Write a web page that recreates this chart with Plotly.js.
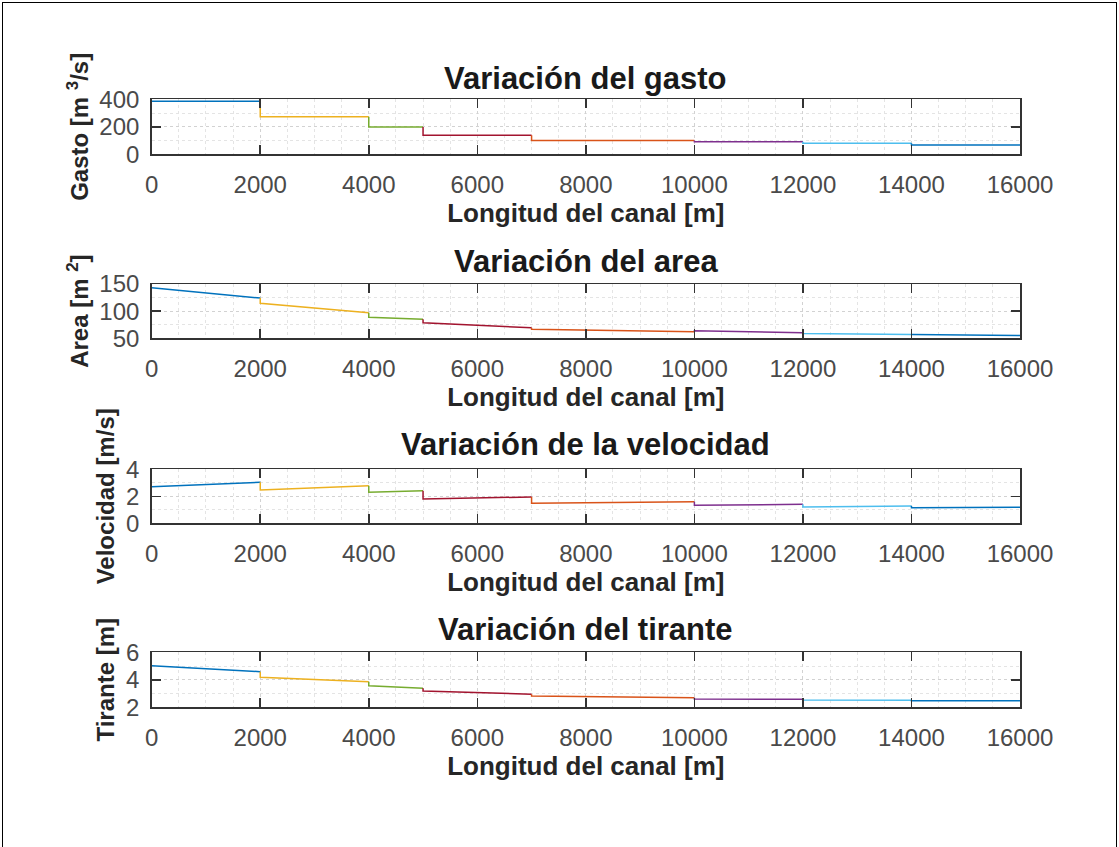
<!DOCTYPE html>
<html>
<head>
<meta charset="utf-8">
<script src="https://cdn.plot.ly/plotly-3.0.1.min.js"></script>
<style>
  html, body { margin:0; padding:0; background:#fff; }
  #wrap { position:relative; width:1119px; height:847px; overflow:hidden; }
  #chart { width:1119px; height:847px; }
  #frame { position:absolute; left:2px; top:2px; width:1113px; height:900px; border:1.5px solid #000; pointer-events:none; }
</style>
</head>
<body>
<div id="wrap"><div id="chart"></div><div id="frame"></div></div>
<script>
// Segment limits along the canal [m]
const xStart = [0, 2000, 4000, 5000, 7000, 10000, 12000, 14000];
const xEnd   = [2000, 4000, 5000, 7000, 10000, 12000, 14000, 16000];
// Gasto [m3/s] per segment (constant)
const gasto = [385, 273, 198, 138, 100, 92, 80, 68];
// Area [m2] at start / end of each segment
const areaStart = [143, 114.5, 88.6, 78.7, 66.5, 64, 59, 57];
const areaEnd   = [124, 97, 85, 69.5, 62, 60, 57, 55];
// Velocidad [m/s]
const velStart = [2.71, 2.47, 2.30, 1.80, 1.48, 1.33, 1.21, 1.16];
const velEnd   = [3.04, 2.79, 2.42, 1.95, 1.60, 1.41, 1.28, 1.19];
// Tirante [m]
const tirStart = [5.03, 4.18, 3.57, 3.19, 2.82, 2.60, 2.53, 2.48];
const tirEnd   = [4.59, 3.86, 3.38, 2.95, 2.70, 2.58, 2.52, 2.47];

const xTicks = [0, 2000, 4000, 6000, 8000, 10000, 12000, 14000, 16000];
const segColors = ['#0072BD', '#EDB120', '#77AC30', '#A2142F', '#D95319', '#7E2F8E', '#4DBEEE', '#0072BD'];

const titles = ['Variación del gasto', 'Variación del area', 'Variación de la velocidad', 'Variación del tirante'];
const yTitles = ['Gasto [m <sup>3</sup>/s]', 'Area [m <sup>2</sup>]', 'Velocidad [m/s]', 'Tirante [m]'];
const yRanges = [[0, 400], [50, 150], [0, 4], [2, 6]];
const yTicks = [[0, 200, 400], [50, 100, 150], [0, 2, 4], [2, 4, 6]];
const yMinor = [100, 25, 1, 1];

const series = [
  [gasto, gasto],
  [areaStart, areaEnd],
  [velStart, velEnd],
  [tirStart, tirEnd]
];

const W = 1119, H = 847;
const plotLeft = 151.7, plotRight = 1020;
const plotTops = [99.3, 284, 469.3, 652.3];
const plotBottoms = [154.3, 338.3, 523.3, 707.3];
const titleY = [78, 261, 444, 629];

const traces = [];
series.forEach((s, k) => {
  const ys = s[0], ye = s[1];
  const xa = k === 0 ? 'x' : 'x' + (k + 1);
  const ya = k === 0 ? 'y' : 'y' + (k + 1);
  for (let i = 0; i < xStart.length; i++) {
    const x = i === 0 ? [xStart[i], xEnd[i]] : [xStart[i], xStart[i], xEnd[i]];
    const y = i === 0 ? [ys[i], ye[i]] : [ye[i - 1], ys[i], ye[i]];
    traces.push({ type: 'scatter', mode: 'lines', x: x, y: y, xaxis: xa, yaxis: ya,
      line: { color: segColors[i], width: 1.5 }, showlegend: false, hoverinfo: 'skip' });
  }
});

const layout = {
  width: W, height: H,
  margin: { l: 0, r: 0, t: 0, b: 0 },
  paper_bgcolor: '#ffffff', plot_bgcolor: '#ffffff',
  font: { family: 'Liberation Sans, Arial, sans-serif', color: '#262626' },
  showlegend: false,
  annotations: []
};

const dom = [plotLeft / W, plotRight / W];
for (let k = 0; k < 4; k++) {
  const xKey = k === 0 ? 'xaxis' : 'xaxis' + (k + 1);
  const yKey = k === 0 ? 'yaxis' : 'yaxis' + (k + 1);
  const yDom = [1 - plotBottoms[k] / H, 1 - plotTops[k] / H];
  layout[xKey] = {
    domain: dom, anchor: k === 0 ? 'y' : 'y' + (k + 1),
    range: [0, 16000], tickmode: 'array', tickvals: xTicks, ticktext: xTicks.map(String),
    ticks: 'inside', ticklen: 9, tickwidth: 1.5, tickcolor: '#333',
    showline: true, linecolor: '#333', linewidth: 1.5, mirror: 'ticks',
    showgrid: true, gridcolor: '#d2d2d2', griddash: 'dot', gridwidth: 1,
    minor: { dtick: 500, tick0: 0, showgrid: true, gridcolor: '#e4e4e4', griddash: 'dot', gridwidth: 1 },
    zeroline: false, automargin: false,
    tickfont: { size: 24, color: '#4a4a4a' }, ticklabelstandoff: 8,
    title: { text: '<b>Longitud del canal [m]</b>', font: { size: 26, color: '#262626' }, standoff: 4 }
  };
  layout[yKey] = {
    domain: yDom, anchor: k === 0 ? 'x' : 'x' + (k + 1),
    range: yRanges[k], tickmode: 'array', tickvals: yTicks[k], ticktext: yTicks[k].map(String),
    ticks: 'inside', ticklen: 9, tickwidth: 1.5, tickcolor: '#333',
    showline: true, linecolor: '#333', linewidth: 1.5, mirror: 'ticks',
    showgrid: true, gridcolor: '#d2d2d2', griddash: 'dot', gridwidth: 1,
    minor: { dtick: yMinor[k], tick0: yRanges[k][0], showgrid: true, gridcolor: '#e4e4e4', griddash: 'dot', gridwidth: 1 },
    zeroline: false, automargin: false,
    tickfont: { size: 24, color: '#4a4a4a' }, ticklabelstandoff: 6,
    title: { text: '<b>' + yTitles[k] + '</b>', font: { size: 24, color: '#262626' }, standoff: 4 }
  };
  layout.annotations.push({
    text: '<b>' + titles[k] + '</b>', xref: 'paper', yref: 'paper',
    x: (plotLeft + plotRight) / 2 / W, y: 1 - titleY[k] / H,
    xanchor: 'center', yanchor: 'middle', showarrow: false,
    font: { size: 31, color: '#1a1a1a' }
  });
}

Plotly.newPlot('chart', traces, layout, { staticPlot: true, displayModeBar: false });
</script>
</body>
</html>
